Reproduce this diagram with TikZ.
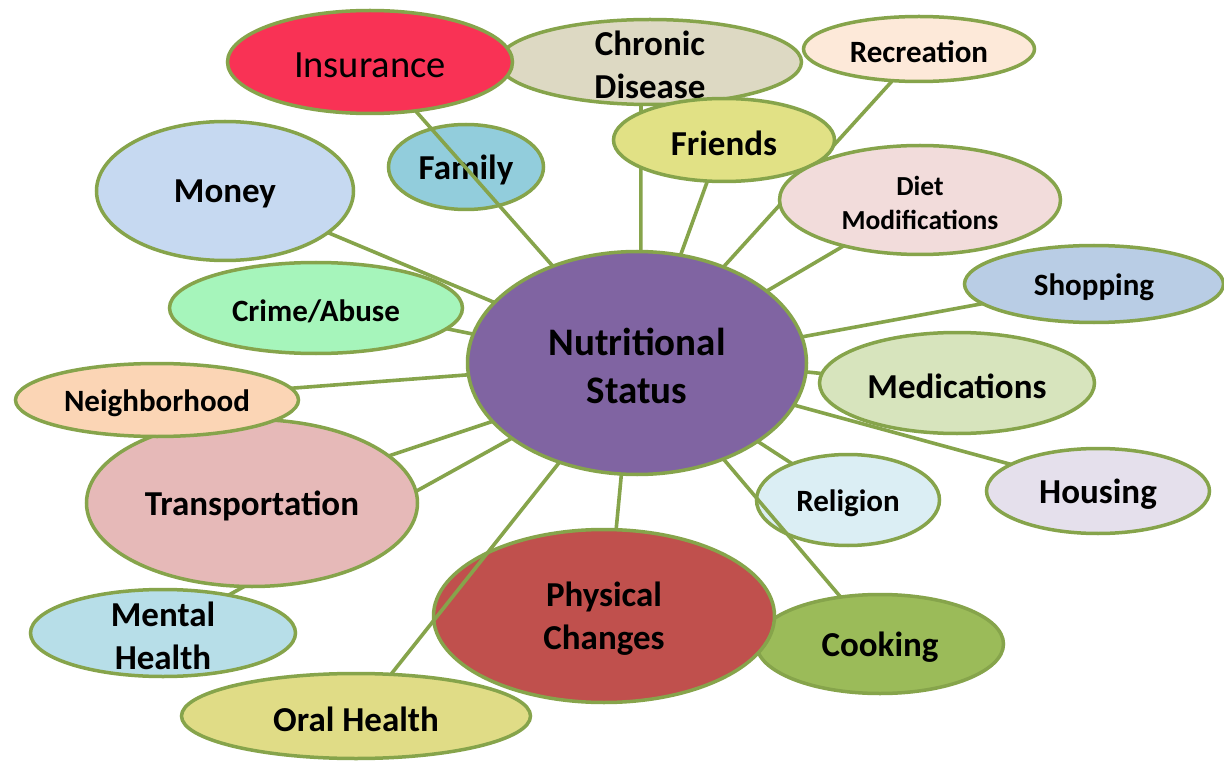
\documentclass[tikz,border=0pt]{standalone}
\usepackage{fontspec}
\setmainfont{Carlito}
\usetikzlibrary{shapes.geometric}
\pgfdeclarelayer{paper}
\pgfdeclarelayer{background}
\pgfsetlayers{paper,background,main}
\definecolor{edgec}{HTML}{86A44B}
\definecolor{cCen}{HTML}{8064A2}
\definecolor{cIns}{HTML}{F93255}
\definecolor{cChr}{HTML}{DDD9C3}
\definecolor{cRec}{HTML}{FDE9D9}
\definecolor{cFri}{HTML}{E1E185}
\definecolor{cFam}{HTML}{92CDDC}
\definecolor{cMon}{HTML}{C6D9F1}
\definecolor{cDie}{HTML}{F2DCDB}
\definecolor{cSho}{HTML}{B9CDE5}
\definecolor{cMed}{HTML}{D7E4BD}
\definecolor{cHou}{HTML}{E5E0EC}
\definecolor{cRel}{HTML}{DBEEF4}
\definecolor{cCoo}{HTML}{9BBB59}
\definecolor{cPhy}{HTML}{C0504D}
\definecolor{cOra}{HTML}{E0DC86}
\definecolor{cMen}{HTML}{B7DEE8}
\definecolor{cTra}{HTML}{E6B9B8}
\definecolor{cNei}{HTML}{FBD5B5}
\definecolor{cCri}{HTML}{A6F5BB}
\begin{document}
\begin{tikzpicture}[x=1pt,y=-1pt,
  bub/.style={ellipse, draw=edgec, line width=3.5pt, inner sep=0pt, outer sep=0pt},
  link/.style={draw=edgec, line width=3.6pt},
  tx/.style={align=center, text=black, inner sep=0pt, yshift=-3pt},
  fBig/.style={font=\fontsize{35pt}{43pt}\selectfont\bfseries},
  fMid/.style={font=\fontsize{31pt}{38pt}\selectfont\bfseries},
  fSml/.style={font=\fontsize{27.5pt}{34pt}\selectfont\bfseries},
  fIns/.style={font=\fontsize{38.5pt}{47pt}\selectfont},
  fCen/.style={font=\fontsize{39pt}{48pt}\selectfont\bfseries}
]
\useasboundingbox (0,0) rectangle (1224,762);
\begin{pgfonlayer}{paper}
\fill[white] (0,0) rectangle (1224,762);
\end{pgfonlayer}

% nodes (drawing order = stacking order)
\node[bub, fill=cCen, minimum width=339, minimum height=223,
  label={[tx,fCen]center:Nutritional\\Status}] (cen) at (637,363) {};
\node[bub, fill=cTra, minimum width=331, minimum height=167,
  label={[tx,fBig]center:Transportation}] (tra) at (252,503) {};
\node[bub, fill=cNei, minimum width=283, minimum height=73,
  label={[tx,fMid]center:Neighborhood}] (nei) at (157,400) {};
\node[bub, fill=cMen, minimum width=265, minimum height=87,
  label={[tx,fBig]center:Mental\\Health}] (men) at (163,633) {};
\node[bub, fill=cCri, minimum width=293, minimum height=91,
  label={[tx,fMid]center:Crime/Abuse}] (cri) at (316,308) {};
\node[bub, fill=cMon, minimum width=257, minimum height=139,
  label={[tx,fBig]center:Money}] (mon) at (225,191) {};
\node[bub, fill=cFam, minimum width=155, minimum height=85,
  label={[tx,fBig]center:Family}] (fam) at (466,167) {};
\node[bub, fill=cChr, minimum width=303, minimum height=85,
  label={[tx,fBig]center:Chronic\\Disease}] (chr) at (650,62) {};
\node[bub, fill=cIns, minimum width=285, minimum height=103,
  label={[tx,fIns]center:Insurance}] (ins) at (370,62) {};
\node[bub, fill=cRec, minimum width=231, minimum height=65,
  label={[tx,fMid]center:Recreation}] (rec) at (919,49) {};
\node[bub, fill=cFri, minimum width=221, minimum height=83,
  label={[tx,fBig]center:Friends}] (fri) at (724,140) {};
\node[bub, fill=cDie, minimum width=281, minimum height=109,
  label={[tx,fSml]center:Diet\\Modifications}] (die) at (920,200) {};
\node[bub, fill=cSho, minimum width=259, minimum height=77,
  label={[tx,fMid]center:Shopping}] (sho) at (1094,284) {};
\node[bub, fill=cMed, minimum width=275, minimum height=101,
  label={[tx,fBig]center:Medications}] (med) at (957,383) {};
\node[bub, fill=cHou, minimum width=223, minimum height=85,
  label={[tx,fBig]center:Housing}] (hou) at (1098,491) {};
\node[bub, fill=cRel, minimum width=183, minimum height=91,
  label={[tx,fMid]center:Religion}] (rel) at (848,500) {};
\node[bub, fill=cCoo, minimum width=247, minimum height=99,
  label={[tx,fBig]center:Cooking}] (coo) at (880,644) {};
\node[bub, fill=cPhy, minimum width=341, minimum height=173,
  label={[tx,fBig]center:Physical\\Changes}] (phy) at (604,616) {};
\node[bub, fill=cOra, minimum width=349, minimum height=85,
  label={[tx,fBig]center:Oral Health}] (ora) at (356,716) {};

% connectors hidden behind other bubbles
\begin{pgfonlayer}{background}
\draw[link] (chr.-102.8) -- (cen.88.5);
\draw[link] (rec.-130.5) -- (cen.48);
\draw[link] (men.30.2) -- (cen.-149.7);
\end{pgfonlayer}

% connectors on top
\draw[link] (ins.-47.2) -- (cen.131.8);
\draw[link] (fri.-112.7) -- (cen.68.4);
\draw[link] (die.-149.7) -- (cen.29.4);
\draw[link] (sho.-170) -- (cen.9.1);
\draw[link] (med.176.3) -- (cen.-3.7);
\draw[link] (hou.163.5) -- (cen.-15.7);
\draw[link] (rel.147.5) -- (cen.-33);
\draw[link] (coo.130) -- (cen.-48);
\draw[link] (phy.82.2) -- (cen.-98);
\draw[link] (ora.50) -- (cen.-128.5);
\draw[link] (tra.19.9) -- (cen.-158.8);
\draw[link] (nei.5.7) -- (cen.-176);
\draw[link] (cri.-9) -- (cen.170.4);
\draw[link] (mon.-22.7) -- (cen.157);
\end{tikzpicture}
\end{document}
